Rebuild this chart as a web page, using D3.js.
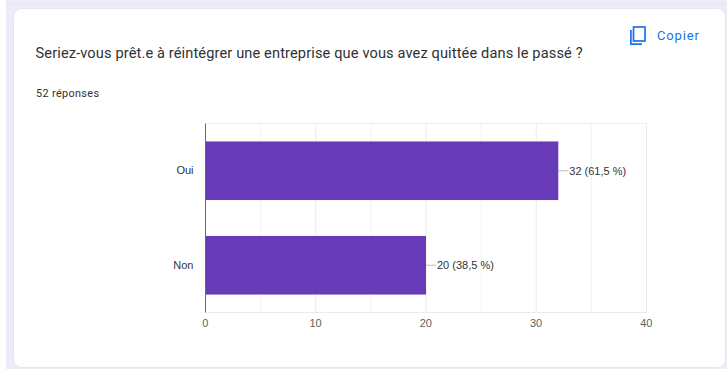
<!DOCTYPE html>
<html lang="fr">
<head>
<meta charset="utf-8">
<script src="https://cdn.jsdelivr.net/npm/d3@7/dist/d3.min.js"></script>
<style>
html,body{margin:0;padding:0;background:#fff;}
svg{display:block;font-family:Roboto,Arial,sans-serif;}
</style>
</head>
<body>
<svg id="chart" width="727" height="369"></svg>
<script>
const categories = ["Oui", "Non"];
const counts = [32, 20];
const percentLabels = ["32 (61,5 %)", "20 (38,5 %)"];
const majorTicks = [0, 10, 20, 30, 40];
const minorTicks = [5, 15, 25, 35];
const questionTitle = "Seriez-vous prêt.e à réintégrer une entreprise que vous avez quittée dans le passé ?";
const responseCount = "52 réponses";
const copyLabel = "Copier";

const svg = d3.select("#chart");
const purple = "#673ab7";
const chartFont = "'Liberation Sans',Arial,sans-serif";

// Page backdrop and response card
svg.append("rect").attr("x", 6).attr("y", 0).attr("width", 721).attr("height", 369).attr("fill", "#f0ebf8");
svg.append("rect").attr("x", 6).attr("y", 3).attr("width", 721).attr("height", 3).attr("fill", "#ebe8f3");
svg.append("rect").attr("x", 13.5).attr("y", 8.5).attr("width", 712).attr("height", 359)
  .attr("rx", 8).attr("fill", "#fff").attr("stroke", "#e6e4ee");

svg.append("text").attr("x", 35.5).attr("y", 57.5)
  .attr("font-size", 14.6).attr("letter-spacing", 0.125).attr("fill", "#303134").text(questionTitle);
svg.append("text").attr("x", 36).attr("y", 96.5)
  .attr("font-size", 10.8).attr("letter-spacing", 0.38).attr("fill", "#303134").text(responseCount);

// Copy button: two overlapping page outlines and its label
const copy = svg.append("g").attr("transform", "translate(630,27)").attr("fill", "none").attr("stroke", "#1a73e8").attr("stroke-width", 1.7);
copy.append("rect").attr("x", 3.5).attr("y", 0).attr("width", 11.5).attr("height", 14);
copy.append("path").attr("d", "M0.9 3V17.2H12");
svg.append("text").attr("x", 657).attr("y", 40)
  .attr("font-size", 13).attr("letter-spacing", 0.85).attr("fill", "#1a73e8").text(copyLabel);

// Scales
const x = d3.scaleLinear().domain([0, 40]).range([205.5, 646.5]);
const y = d3.scaleBand().domain(categories).range([123.5, 312.5]).paddingInner(0.38).paddingOuter(0.19);

// Gridlines
svg.append("g").selectAll("line").data(majorTicks.slice(1)).join("line")
  .attr("x1", d => x(d)).attr("x2", d => x(d)).attr("y1", y.range()[0]).attr("y2", y.range()[1])
  .attr("stroke", "#ebebeb");
svg.append("g").selectAll("line").data(minorTicks).join("line")
  .attr("x1", d => x(d)).attr("x2", d => x(d)).attr("y1", y.range()[0]).attr("y2", y.range()[1])
  .attr("stroke", "#f4f4f4");
svg.append("line").attr("x1", x(0)).attr("x2", x(40)).attr("y1", 123.5).attr("y2", 123.5).attr("stroke", "#f0f0f0");
svg.append("line").attr("x1", x(0)).attr("x2", x(40)).attr("y1", 312.5).attr("y2", 312.5).attr("stroke", "#ebebeb");

// Bars
svg.append("g").selectAll("rect").data(counts).join("rect")
  .attr("x", x(0)).attr("y", (d, i) => y(categories[i]))
  .attr("width", d => x(d) - x(0)).attr("height", y.bandwidth())
  .attr("fill", purple);

// Baseline
svg.append("line").attr("x1", x(0)).attr("x2", x(0)).attr("y1", 123.5).attr("y2", 312.5)
  .attr("stroke", "#6b6b6b").attr("stroke-width", 1);

// Value axis
const xAxis = svg.append("g").attr("transform", "translate(-0.7,312.5)")
  .call(d3.axisBottom(x).tickValues(majorTicks).tickSize(0).tickPadding(7));
xAxis.select(".domain").remove();
xAxis.selectAll("text").attr("font-size", 11).attr("font-family", chartFont).attr("fill", "#5f5f5f");

// Category axis
const yAxis = svg.append("g").attr("transform", "translate(205.5,0)")
  .call(d3.axisLeft(y).tickSize(0).tickPadding(12));
yAxis.select(".domain").remove();
yAxis.selectAll("text").attr("font-size", 11).attr("font-family", chartFont).attr("fill", "#333");

// Value labels with leader lines
svg.append("g").selectAll("line").data(counts).join("line")
  .attr("x1", d => x(d)).attr("x2", d => x(d) + 10)
  .attr("y1", (d, i) => y(categories[i]) + y.bandwidth() / 2)
  .attr("y2", (d, i) => y(categories[i]) + y.bandwidth() / 2)
  .attr("stroke", "#bdbdbd");
svg.append("g").selectAll("text").data(counts).join("text")
  .attr("x", d => x(d) + 11)
  .attr("y", (d, i) => y(categories[i]) + y.bandwidth() / 2)
  .attr("dy", "0.35em")
  .attr("font-size", 11).attr("font-family", chartFont).attr("fill", "#333")
  .text((d, i) => percentLabels[i]);
</script>
</body>
</html>
